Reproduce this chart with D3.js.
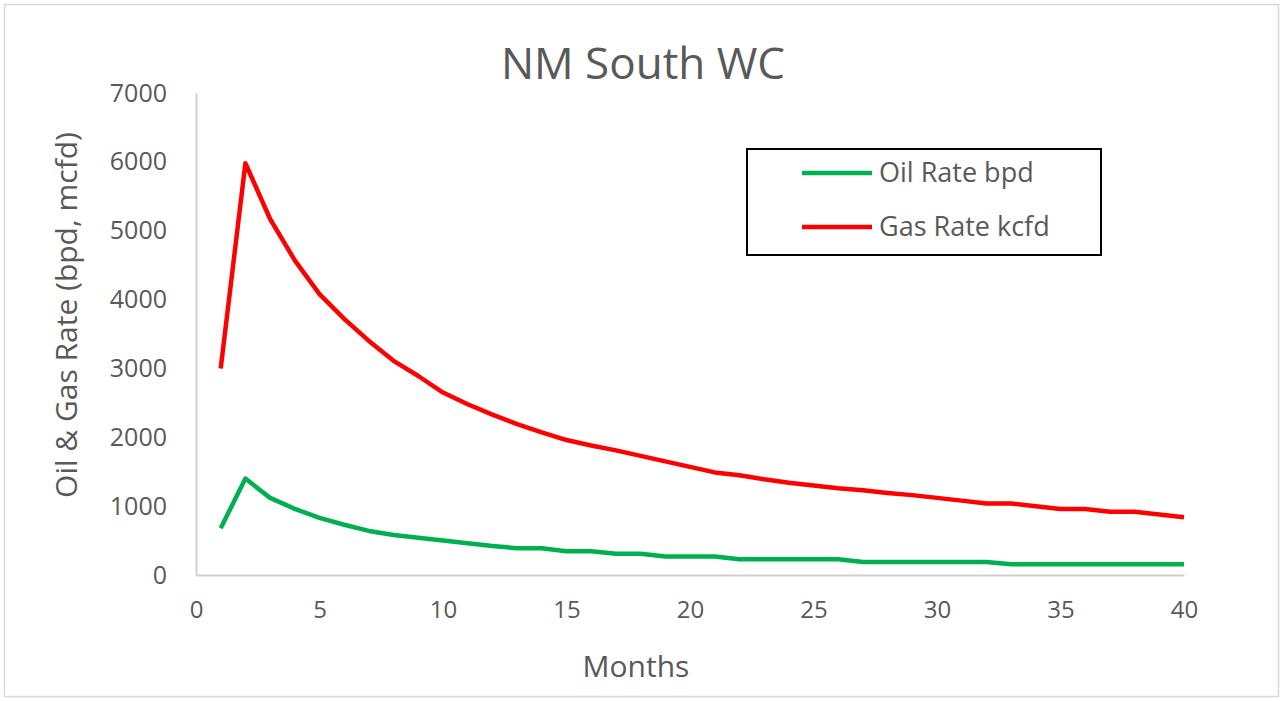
<!DOCTYPE html>
<meta charset="utf-8">
<script src="https://d3js.org/d3.v7.min.js"></script>
<style>
  body { margin: 0; background: #fff; }
  text { font-family: "Open Sans", sans-serif; fill: #595959; }
</style>
<div id="chart"></div>
<script>

// data
var months = d3.range(1, 41);
var gasRate = [3000, 5980, 5170, 4570, 4080, 3720, 3400, 3110, 2890, 2650,
               2480, 2330, 2190, 2070, 1960, 1880, 1810, 1730, 1650, 1570,
               1490, 1450, 1390, 1340, 1300, 1260, 1230, 1190, 1160, 1120,
               1080, 1040, 1040, 1000, 960, 960, 920, 920, 880, 840];
var oilRate = [680, 1400, 1120, 960, 830, 730, 640, 580, 540, 500,
               460, 420, 390, 390, 345, 345, 310, 310, 270, 270,
               270, 230, 230, 230, 230, 230, 190, 190, 190, 190,
               190, 190, 155, 155, 155, 155, 155, 155, 155, 155];
var xTicks = [0, 5, 10, 15, 20, 25, 30, 35, 40];
var yTicks = [0, 1000, 2000, 3000, 4000, 5000, 6000, 7000];
var seriesNames = ["Oil Rate bpd", "Gas Rate kcfd"];
var seriesColors = ["#00b050", "#ff0000"];

var W = 1283, H = 701;
var margin = {top: 93, right: 99, bottom: 126, left: 196},
    width = W - margin.left - margin.right,
    height = H - margin.top - margin.bottom;

var root = d3.select("#chart").append("svg")
    .attr("width", W)
    .attr("height", H);

// outer chart border
root.append("rect")
    .attr("x", 4.5).attr("y", 4.5)
    .attr("width", W - 9).attr("height", H - 9)
    .attr("fill", "#fff")
    .attr("stroke", "#d9d9d9")
    .attr("stroke-width", 1.5);

root.append("text")
    .attr("x", 643).attr("y", 79)
    .attr("text-anchor", "middle")
    .style("font-size", "44px")
    .text("NM South WC");

var svg = root.append("g")
    .attr("transform", "translate(" + margin.left + "," + margin.top + ")");

var x = d3.scaleLinear().domain([0, 40]).range([0, width]);
var y = d3.scaleLinear().domain([0, 7000]).range([height, 0]);

// X axis
var xAxis = svg.append("g")
    .attr("transform", "translate(0," + height + ")")
    .call(d3.axisBottom(x).tickValues(xTicks).tickSize(0).tickPadding(26));
xAxis.select(".domain").attr("stroke", "#d0d0d0").attr("stroke-width", 2);
xAxis.selectAll("text").style("font-size", "24px").attr("fill", "#595959");

// Y axis
var yAxis = svg.append("g")
    .call(d3.axisLeft(y).tickValues(yTicks).tickFormat(d3.format("d")).tickSize(0).tickPadding(29));
yAxis.select(".domain").attr("stroke", "#d0d0d0").attr("stroke-width", 2);
yAxis.selectAll("text").style("font-size", "25px").attr("fill", "#595959");

// axis titles
root.append("text")
    .attr("x", 636).attr("y", 677)
    .attr("text-anchor", "middle")
    .style("font-size", "30px")
    .text("Months");

root.append("text")
    .attr("transform", "translate(77,315) rotate(-90)")
    .attr("text-anchor", "middle")
    .style("font-size", "30px")
    .text("Oil & Gas Rate (bpd, mcfd)");

// lines
var line = d3.line()
    .x(function(d) { return x(d[0]); })
    .y(function(d) { return y(d[1]); });

[oilRate, gasRate].forEach(function(vals, i) {
  svg.append("path")
      .datum(months.map(function(m, j) { return [m, vals[j]]; }))
      .attr("d", line)
      .attr("fill", "none")
      .attr("stroke", seriesColors[i])
      .attr("stroke-width", 4.5)
      .attr("stroke-linejoin", "round");
});

// legend
var legend = root.append("g");
legend.append("rect")
    .attr("x", 747).attr("y", 149)
    .attr("width", 354).attr("height", 106)
    .attr("fill", "#fff")
    .attr("stroke", "#000")
    .attr("stroke-width", 2);

seriesNames.forEach(function(name, i) {
  var ly = 173 + i * 54;
  legend.append("line")
      .attr("x1", 802).attr("x2", 872)
      .attr("y1", ly).attr("y2", ly)
      .attr("stroke", seriesColors[i])
      .attr("stroke-width", 4.5);
  legend.append("text")
      .attr("x", 879).attr("y", ly)
      .attr("dy", "0.35em")
      .style("font-size", "27px")
      .text(name);
});

</script>
